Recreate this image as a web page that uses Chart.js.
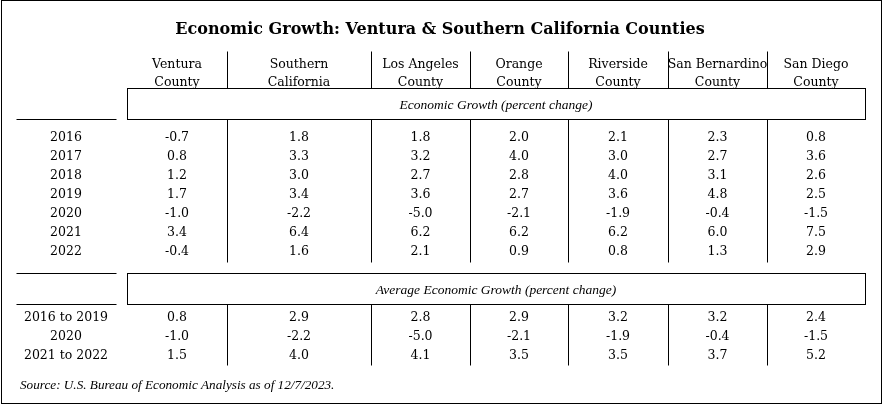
<!DOCTYPE html>
<html>
<head>
<meta charset="utf-8">
<script src="https://cdn.jsdelivr.net/npm/chart.js@4.4.0/dist/chart.umd.min.js"></script>
<style>
  html, body { margin: 0; padding: 0; background: #fff; }
  canvas { display: block; }
</style>
</head>
<body>
<canvas id="tablaCrecimiento" width="883" height="405"></canvas>
<script>
const TITLE = 'Economic Growth: Ventura & Southern California Counties'
const BAND_ANNUAL = 'Economic Growth (percent change)'
const BAND_AVERAGE = 'Average Economic Growth (percent change)'
const SOURCE = 'Source: U.S. Bureau of Economic Analysis as of 12/7/2023.'

const counties = [
    ['Ventura', 'County'],
    ['Southern', 'California'],
    ['Los Angeles', 'County'],
    ['Orange', 'County'],
    ['Riverside', 'County'],
    ['San Bernardino', 'County'],
    ['San Diego', 'County']
]
const years = ['2016', '2017', '2018', '2019', '2020', '2021', '2022']
const periods = ['2016 to 2019', '2020', '2021 to 2022']

// annual growth, one array per county (same order as years)
const ventura       = [-0.7, 0.8, 1.2, 1.7, -1.0, 3.4, -0.4]
const southernCal   = [ 1.8, 3.3, 3.0, 3.4, -2.2, 6.4,  1.6]
const losAngeles    = [ 1.8, 3.2, 2.7, 3.6, -5.0, 6.2,  2.1]
const orange        = [ 2.0, 4.0, 2.8, 2.7, -2.1, 6.2,  0.9]
const riverside     = [ 2.1, 3.0, 4.0, 3.6, -1.9, 6.2,  0.8]
const sanBernardino = [ 2.3, 2.7, 3.1, 4.8, -0.4, 6.0,  1.3]
const sanDiego      = [ 0.8, 3.6, 2.6, 2.5, -1.5, 7.5,  2.9]

// average growth, same order as periods
const venturaAvg       = [0.8, -1.0, 1.5]
const southernCalAvg   = [2.9, -2.2, 4.0]
const losAngelesAvg    = [2.8, -5.0, 4.1]
const orangeAvg        = [2.9, -2.1, 3.5]
const riversideAvg     = [3.2, -1.9, 3.5]
const sanBernardinoAvg = [3.2, -0.4, 3.7]
const sanDiegoAvg      = [2.4, -1.5, 5.2]

const annual = [ventura, southernCal, losAngeles, orange, riverside, sanBernardino, sanDiego]
const averages = [venturaAvg, southernCalAvg, losAngelesAvg, orangeAvg, riversideAvg, sanBernardinoAvg, sanDiegoAvg]

// layout in table units (scale 0..883 x 0..405)
const colEdges = [127, 227, 371, 470, 568, 668, 767, 865]
const labelCol = [16, 116]
const rowStep = 19
const yearBase = 141
const periodBase = 320.5
const band1 = [88, 119]
const band2 = [273, 304]

const FONT = '"DejaVu Serif", serif'
const ITALIC = '"Liberation Serif", serif'

const colCenter = i => (colEdges[i] + colEdges[i + 1]) / 2
const fmt = v => v.toFixed(1)

const datasets = counties.map((c, i) => ({
    label: c.join(' '),
    data: years.map((yr, j) => ({ x: colCenter(i), y: yearBase + j * rowStep, v: annual[i][j] }))
        .concat(periods.map((p, j) => ({ x: colCenter(i), y: periodBase + j * rowStep, v: averages[i][j] }))),
    pointRadius: 0,
    pointHoverRadius: 0
}))

const tablaPlugin = {
    id: 'tabla',
    afterDraw(chart) {
        const { ctx, scales: { x, y } } = chart
        const px = v => x.getPixelForValue(v)
        const py = v => y.getPixelForValue(v)
        const crisp = v => Math.round(v) + 0.5

        ctx.save()
        ctx.strokeStyle = '#000'
        ctx.lineWidth = 1
        const line = (x1, y1, x2, y2) => {
            ctx.beginPath()
            ctx.moveTo(crisp(px(x1)), crisp(py(y1)))
            ctx.lineTo(crisp(px(x2)), crisp(py(y2)))
            ctx.stroke()
        }
        const box = (x1, y1, x2, y2) => {
            ctx.strokeRect(crisp(px(x1)), crisp(py(y1)), Math.round(px(x2) - px(x1)), Math.round(py(y2) - py(y1)))
        }

        // frame
        ctx.strokeRect(1.5, 0.5, chart.width - 3, chart.height - 2)

        // bands and left rules
        box(colEdges[0], band1[0], colEdges[colEdges.length - 1], band1[1])
        box(colEdges[0], band2[0], colEdges[colEdges.length - 1], band2[1])
        line(labelCol[0], band1[1], labelCol[1], band1[1])
        line(labelCol[0], band2[0], labelCol[1], band2[0])
        line(labelCol[0], band2[1], labelCol[1], band2[1])

        // column separators
        const lastYear = yearBase + (years.length - 1) * rowStep + 7
        const lastPeriod = periodBase + (periods.length - 1) * rowStep + 6
        for (let i = 1; i < colEdges.length - 1; i++) {
            line(colEdges[i], 51, colEdges[i], band1[0])
            line(colEdges[i], band1[1], colEdges[i], lastYear)
            line(colEdges[i], band2[1], colEdges[i], lastPeriod)
        }

        ctx.fillStyle = '#000'
        ctx.textAlign = 'center'
        ctx.textBaseline = 'alphabetic'

        // title
        ctx.font = 'bold 16px ' + FONT
        ctx.fillText(TITLE, px(440), py(34))

        // headers
        ctx.font = '12.5px ' + FONT
        counties.forEach((c, i) => {
            ctx.fillText(c[0], px(colCenter(i)), py(68))
            ctx.fillText(c[1], px(colCenter(i)), py(86))
        })

        // band titles
        ctx.font = 'italic 13.5px ' + ITALIC
        const mid = (colEdges[0] + colEdges[colEdges.length - 1]) / 2
        ctx.fillText(BAND_ANNUAL, px(mid), py(108.5))
        ctx.fillText(BAND_AVERAGE, px(mid), py(293.5))

        // row labels
        ctx.font = '12.5px ' + FONT
        const lx = (labelCol[0] + labelCol[1]) / 2
        years.forEach((yr, j) => ctx.fillText(yr, px(lx), py(yearBase + j * rowStep)))
        periods.forEach((p, j) => ctx.fillText(p, px(lx), py(periodBase + j * rowStep)))

        // cell values at the dataset points
        chart.data.datasets.forEach((ds, i) => {
            chart.getDatasetMeta(i).data.forEach((pt, k) => {
                ctx.fillText(fmt(ds.data[k].v), pt.x, pt.y)
            })
        })

        // source
        ctx.font = 'italic 13.2px ' + ITALIC
        ctx.textAlign = 'left'
        ctx.fillText(SOURCE, px(20), py(389))
        ctx.restore()
    }
}

const ctx = document.getElementById('tablaCrecimiento')
const tabla = new Chart(ctx, {
    type: 'scatter',
    data: { datasets: datasets },
    options: {
        responsive: false,
        devicePixelRatio: 1,
        animation: false,
        events: [],
        layout: { padding: 0 },
        plugins: { legend: { display: false }, tooltip: { enabled: false } },
        scales: {
            x: { type: 'linear', min: 0, max: 883, display: false },
            y: { type: 'linear', min: 0, max: 405, reverse: true, display: false }
        }
    },
    plugins: [tablaPlugin]
})
</script>
</body>
</html>
